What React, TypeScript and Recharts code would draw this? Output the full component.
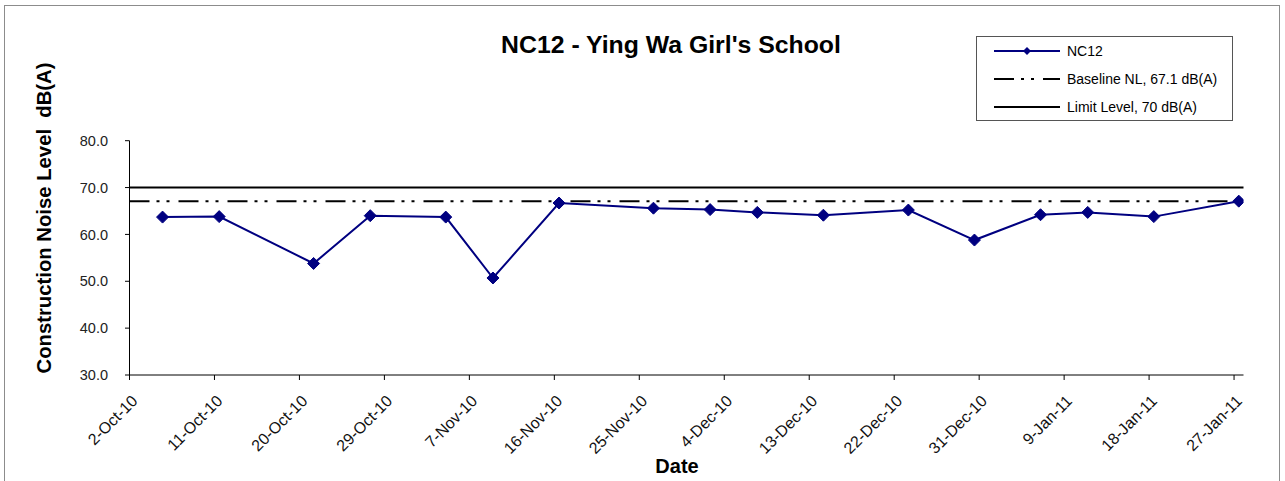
import React from 'react';
import { LineChart, Line, XAxis, YAxis, ReferenceLine } from 'recharts';

const START_DATE = '2010-10-02';
const END_DATE = '2011-01-28';
const sampleDates = [
  '2010-10-05', '2010-10-11', '2010-10-21', '2010-10-27', '2010-11-04', '2010-11-09',
  '2010-11-16', '2010-11-26', '2010-12-02', '2010-12-07', '2010-12-14', '2010-12-23',
  '2010-12-30', '2011-01-06', '2011-01-11', '2011-01-18', '2011-01-27',
];
const nc12Values = [63.7, 63.8, 53.8, 64.0, 63.7, 50.7, 66.7, 65.6, 65.3, 64.7, 64.1, 65.2, 58.8, 64.2, 64.7, 63.8, 67.1];
const tickDates = [
  '2010-10-02', '2010-10-11', '2010-10-20', '2010-10-29', '2010-11-07', '2010-11-16', '2010-11-25',
  '2010-12-04', '2010-12-13', '2010-12-22', '2010-12-31', '2011-01-09', '2011-01-18', '2011-01-27',
];
const tickLabels = [
  '2-Oct-10', '11-Oct-10', '20-Oct-10', '29-Oct-10', '7-Nov-10', '16-Nov-10', '25-Nov-10',
  '4-Dec-10', '13-Dec-10', '22-Dec-10', '31-Dec-10', '9-Jan-11', '18-Jan-11', '27-Jan-11',
];
const yTicks = [30, 40, 50, 60, 70, 80];
const baselineNL = 67.1;
const limitLevel = 70;

const FONT = '"Liberation Sans", Arial, sans-serif';
const NAVY = '#000080';
const DASH = '20 7 3 7 3 9';

const dayOffset = (iso: string) => (Date.parse(iso) - Date.parse(START_DATE)) / 86400000;

// each sample sits in the middle of its day slot on the date axis
const data = sampleDates.map((d, i) => ({ day: dayOffset(d) + 0.5, nc12: nc12Values[i] }));
const xTicks = tickDates.map(dayOffset);

const Diamond = (props: any) => {
  const { cx, cy } = props;
  if (cx == null || cy == null) return null;
  const r = 6;
  return <path d={`M${cx},${cy - r}L${cx + r},${cy}L${cx},${cy + r}L${cx - r},${cy}Z`} fill={NAVY} stroke={NAVY} />;
};

const XTick = (props: any) => {
  const { x, y, index } = props;
  const ax = x + 9;
  const ay = y + 20;
  return (
    <text x={ax} y={ay} transform={`rotate(-45 ${ax} ${ay})`} textAnchor="end" fontSize={16} fontFamily={FONT} fill="#111">
      {tickLabels[index]}
    </text>
  );
};

const LegendBox = () => (
  <div style={{ position: 'absolute', left: 976, top: 36, width: 255, height: 83, border: '1px solid #555', background: '#fff' }}>
    <svg width={255} height={83}>
      <line x1={17} x2={83} y1={14} y2={14} stroke={NAVY} strokeWidth={2} />
      <path d="M50,10L54,14L50,18L46,14Z" fill={NAVY} />
      <text x={90} y={19} fontSize={14} fontFamily={FONT}>NC12</text>
      <line x1={17} x2={83} y1={42} y2={42} stroke="#000" strokeWidth={2} strokeDasharray={DASH} />
      <text x={90} y={47} fontSize={14} fontFamily={FONT}>Baseline NL, 67.1 dB(A)</text>
      <line x1={17} x2={83} y1={70} y2={70} stroke="#000" strokeWidth={2} />
      <text x={90} y={75} fontSize={14} fontFamily={FONT}>Limit Level, 70 dB(A)</text>
    </svg>
  </div>
);

export default function App() {
  return (
    <div style={{ position: 'absolute', left: 0, top: 0, width: 1285, height: 481, overflow: 'hidden', background: '#fff' }}>
      <div style={{ position: 'absolute', left: 4, top: 5, width: 1274, height: 500, border: '1px solid #8c8c8c' }} />
      <div style={{ position: 'absolute', left: 0, top: 0 }}>
        <LineChart width={1285} height={481} data={data} margin={{ top: 140.7, right: 41.5, bottom: 46, left: 0 }}>
          <XAxis
            dataKey="day"
            type="number"
            domain={[0, dayOffset(END_DATE)]}
            ticks={xTicks}
            interval={0}
            tick={<XTick />}
            tickSize={5}
            height={60}
            stroke="#000"
            allowDataOverflow
          />
          <YAxis
            type="number"
            domain={[30, 80]}
            ticks={yTicks}
            width={129.5}
            tickSize={4.5}
            tickMargin={17}
            tickFormatter={(v: number) => v.toFixed(1)}
            tick={{ fontSize: 14.5, fontFamily: FONT, fill: '#222' }}
            stroke="#000"
          />
          <ReferenceLine y={limitLevel} stroke="#000" strokeWidth={2} />
          <ReferenceLine y={baselineNL} stroke="#000" strokeWidth={2} strokeDasharray={DASH} />
          <Line
            type="linear"
            dataKey="nc12"
            name="NC12"
            stroke={NAVY}
            strokeWidth={2}
            dot={<Diamond />}
            activeDot={false}
            isAnimationActive={false}
          />
        </LineChart>
      </div>
      <LegendBox />
      <svg width={1285} height={481} style={{ position: 'absolute', left: 0, top: 0, pointerEvents: 'none' }}>
        <text x={671} y={53} textAnchor="middle" fontSize={24.8} fontWeight="bold" fontFamily={FONT}>
          NC12 - Ying Wa Girl's School
        </text>
        <text x={51} y={218} textAnchor="middle" fontSize={20.3} fontWeight="bold" fontFamily={FONT} transform="rotate(-90 51 218)">
          {'Construction Noise Level\u00a0 dB(A)'}
        </text>
        <text x={677} y={473} textAnchor="middle" fontSize={20} fontWeight="bold" fontFamily={FONT}>
          Date
        </text>
      </svg>
    </div>
  );
}
